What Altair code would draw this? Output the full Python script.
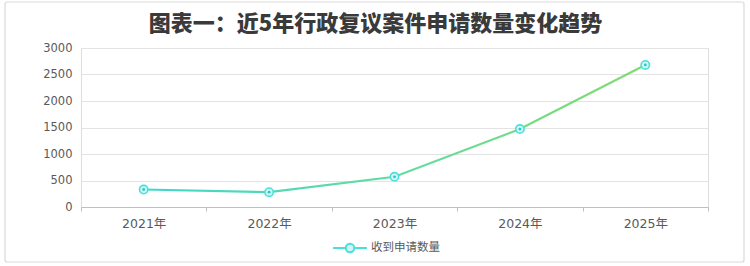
import altair as alt
import pandas as pd

years = ["2021年", "2022年", "2023年", "2024年", "2025年"]
counts = [330, 280, 570, 1470, 2680]
series = ["收到申请数量"] * 5
title_text = "图表一：近5年行政复议案件申请数量变化趋势"
y_ticks = [0, 500, 1000, 1500, 2000, 2500, 3000]

df = pd.DataFrame({"year": years, "count": counts, "series": series})

FONT = "Noto Sans CJK SC"
LFONT = "DejaVu Sans, 'Noto Sans CJK SC'"
x_enc = alt.X("year:O", sort=years, title=None,
              scale=alt.Scale(type="band", paddingInner=0, paddingOuter=0),
              axis=alt.Axis(labelAngle=0, tickBand="extent", domainColor="#BFBFBF",
                            tickColor="#BFBFBF", tickSize=4, labelPadding=6,
                            labelFontSize=12.5, labelColor="#595959", labelFont=LFONT,
                            grid=False))
y_enc = alt.Y("count:Q", title=None,
              scale=alt.Scale(domain=[0, 3000], nice=False),
              axis=alt.Axis(values=y_ticks, format="d",
                            domain=False, ticks=False, labelPadding=9,
                            labelFontSize=11.5, labelColor="#595959", labelFont=LFONT,
                            gridColor="#E3E3E3", gridWidth=1.2))

grad = alt.Gradient(gradient="linear",
                    stops=[alt.GradientStop(color="#3FD7C9", offset=0),
                           alt.GradientStop(color="#66DB9E", offset=0.55),
                           alt.GradientStop(color="#80DC6C", offset=1)],
                    x1=0, x2=1, y1=0, y2=0)

line = alt.Chart(df).mark_line(stroke=grad, strokeWidth=2.2).encode(x=x_enc, y=y_enc)

legend_path = "M-1,0H-0.27M0.27,0H1M0.25,0A0.25,0.25 0 1,1 -0.25,0A0.25,0.25 0 1,1 0.25,0Z"
outer = alt.Chart(df).mark_point(filled=True, fill="#CFF6F4", strokeWidth=1.6,
                                 size=70, opacity=1, shape="circle").encode(
    x=x_enc, y=y_enc,
    stroke=alt.Stroke("series:N", scale=alt.Scale(range=["#4ADFDC"]),
                      legend=alt.Legend(title=None, orient="none", legendX=251, legendY=182,
                                        symbolType=legend_path,
                                        symbolSize=1150, symbolStrokeWidth=2,
                                        symbolFillColor="#CFF6F4",
                                        labelFontSize=11.5, labelColor="#595959",
                                        labelFont=FONT, labelOffset=3)))
inner = alt.Chart(df).mark_point(filled=True, color="#2BC9C6", size=8, opacity=1,
                                 shape="circle").encode(x=x_enc, y=y_enc)

border = alt.Chart(pd.DataFrame({"a": [0]})).mark_rect(
    fill=None, stroke="#D9D9D9", strokeWidth=1.2, cornerRadius=2).encode(
    x=alt.value(-76), x2=alt.value(663), y=alt.value(-46), y2=alt.value(214))

chart = alt.layer(border, line, outer, inner).properties(
    width=627, height=159,
    title=alt.Title(title_text, font=FONT, fontSize=22, fontWeight=900,
                    color="#3A3A3A", anchor="middle", dx=-19, offset=12, dy=47),
    autosize=alt.AutoSizeParams(type="none"),
    padding={"left": 81, "top": 48, "right": 42, "bottom": 59},
).configure_view(stroke=None).configure(background="white")

chart.save("out.html", embed_options={"renderer": "svg", "actions": False})
